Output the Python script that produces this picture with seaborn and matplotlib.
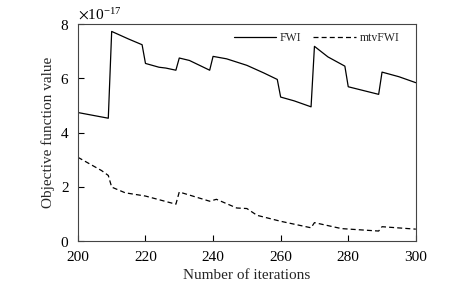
import numpy as np
import pandas as pd
import matplotlib
matplotlib.use("Agg")
import matplotlib.pyplot as plt
import seaborn as sns
from matplotlib.ticker import ScalarFormatter

# values (units of 1e-17)
fwi_iter = [200, 209, 210, 215, 219, 220, 224, 226, 229, 230, 233, 239, 240, 244,
            250, 255, 259, 260, 264, 269, 270, 274, 279, 280, 289, 290, 295, 300]
fwi_val = [4.74, 4.53, 7.73, 7.45, 7.24, 6.55, 6.41, 6.38, 6.30, 6.75, 6.66, 6.30, 6.81, 6.72,
           6.48, 6.20, 5.96, 5.31, 5.17, 4.95, 7.18, 6.79, 6.45, 5.69, 5.41, 6.23, 6.06, 5.84]

mtv_iter = [200, 207, 209, 210, 214, 220, 229, 230, 239, 241, 247, 250, 253,
            260, 269, 270, 278, 289, 290, 300]
mtv_val = [3.09, 2.60, 2.42, 1.99, 1.78, 1.66, 1.36, 1.81, 1.47, 1.54, 1.22, 1.20, 0.95,
           0.73, 0.49, 0.68, 0.46, 0.37, 0.53, 0.44]

sns.set_style("ticks")
plt.rcParams['font.family'] = ['Liberation Serif', 'DejaVu Serif']
plt.rcParams['mathtext.fontset'] = 'stix'

fig = plt.figure(figsize=(4.72, 2.87), dpi=100)
ax = fig.add_axes([0.165, 0.16, 0.716, 0.756])

df_fwi = pd.DataFrame({'iter': fwi_iter, 'value': np.array(fwi_val) * 1e-17})
df_mtv = pd.DataFrame({'iter': mtv_iter, 'value': np.array(mtv_val) * 1e-17})

sns.lineplot(data=df_fwi, x='iter', y='value', ax=ax, color='black', lw=0.9, label='FWI')
sns.lineplot(data=df_mtv, x='iter', y='value', ax=ax, color='black', lw=0.9,
             linestyle=(0, (4, 2.5)), label='mtvFWI')

ax.set_xlim(200, 300)
ax.set_ylim(0, 8e-17)
ax.set_xticks([200, 220, 240, 260, 280, 300])
ax.set_yticks(np.array([0, 2, 4, 6, 8]) * 1e-17)
fmt = ScalarFormatter(useMathText=True)
fmt.set_powerlimits((0, 0))
ax.yaxis.set_major_formatter(fmt)
ax.yaxis.get_offset_text().set_fontsize(11)

ax.set_xlabel('Number of iterations', fontsize=11, labelpad=4)
ax.set_ylabel('Objective function value', fontsize=11, labelpad=4)
ax.tick_params(direction='in', length=4, width=0.8, labelsize=11, colors='black')
ax.tick_params(axis='x', pad=7)
ax.tick_params(axis='y', pad=6)
for s in ax.spines.values():
    s.set_linewidth(0.8)
    s.set_color('#444444')

ax.legend(loc='upper right', bbox_to_anchor=(0.975, 1.0), ncol=2, frameon=False,
          fontsize=8.5, handlelength=3.6, columnspacing=1.0, handletextpad=0.3,
          borderaxespad=0.3)

fig.savefig('out.png', dpi=100)
